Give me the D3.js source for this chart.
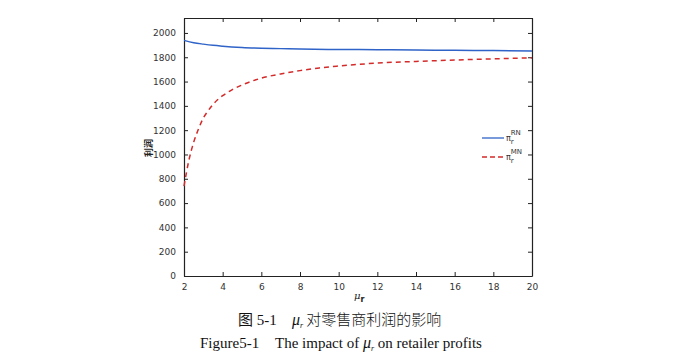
<!DOCTYPE html>
<html>
<head>
<meta charset="utf-8">
<script src="https://cdn.jsdelivr.net/npm/d3@7"></script>
<style>
  body { margin: 0; background: #fff; }
  svg { display: block; }
</style>
</head>
<body>
<svg id="chart" width="699" height="361"></svg>
<script>
// data
var rnMu = [2, 2.5, 3, 3.5, 4, 5, 6, 7, 8, 10, 12, 14, 16, 18, 20];
var rnProfit = [1939, 1920, 1908, 1898, 1891, 1881, 1875, 1871, 1867, 1864, 1862, 1860, 1857, 1855, 1852];
var mnMu = [2, 2.25, 2.5, 2.75, 3, 3.25, 3.5, 3.75, 4, 4.5, 5, 5.5, 6, 7, 8, 9, 10, 12, 14, 16, 18, 20];
var mnProfit = [740, 950, 1100, 1210, 1300, 1360, 1412, 1452, 1484, 1533, 1572, 1603, 1628, 1663, 1690, 1712, 1728, 1752, 1766, 1777, 1787, 1795];
var xTicks = [2, 4, 6, 8, 10, 12, 14, 16, 18, 20];
var yTicks = [0, 200, 400, 600, 800, 1000, 1200, 1400, 1600, 1800, 2000];

var margin = { left: 184, top: 18, right: 167, bottom: 85 };
var svg = d3.select("#chart");
var W = 699 - margin.left - margin.right;
var H = 361 - margin.top - margin.bottom;

var g = svg.append("g").attr("transform", "translate(" + margin.left + "," + margin.top + ")");

var x = d3.scaleLinear().domain([2, 20]).range([0, W]);
var y = d3.scaleLinear().domain([0, 2123]).range([H, 0]);

// axes, ticks pointing inward
function styleAxis(sel) {
  sel.select(".domain").attr("stroke", "#222").attr("stroke-width", 1.2);
  sel.selectAll(".tick line").attr("stroke", "#222");
  sel.selectAll(".tick text").attr("fill", "#333")
    .style("font-family", "DejaVu Sans, sans-serif").style("font-size", "9px");
}

g.append("g").attr("transform", "translate(0," + H + ")")
  .call(d3.axisBottom(x).tickValues(xTicks).tickFormat(d3.format("d"))
    .tickSizeInner(-4).tickSizeOuter(0).tickPadding(8))
  .call(styleAxis);
g.append("g")
  .call(d3.axisLeft(y).tickValues(yTicks).tickFormat(d3.format("d"))
    .tickSizeInner(-4).tickSizeOuter(0).tickPadding(8))
  .call(styleAxis);
g.append("g")
  .call(d3.axisTop(x).tickValues(xTicks).tickSizeInner(-4).tickSizeOuter(0).tickFormat(""))
  .call(styleAxis);
g.append("g").attr("transform", "translate(" + W + ",0)")
  .call(d3.axisRight(y).tickValues(yTicks).tickSizeInner(-4).tickSizeOuter(0).tickFormat(""))
  .call(styleAxis);

var line = d3.line().curve(d3.curveMonotoneX);

g.append("path")
  .attr("d", line(rnMu.map(function (d, i) { return [x(d), y(rnProfit[i])]; })))
  .attr("fill", "none").attr("stroke", "#2f63c8").attr("stroke-width", 1.5);

g.append("path")
  .attr("d", line(mnMu.map(function (d, i) { return [x(d), y(mnProfit[i])]; })))
  .attr("fill", "none").attr("stroke", "#d42a2a").attr("stroke-width", 1.5)
  .attr("stroke-dasharray", "5,4");

// legend
var legend = [
  { sup: "RN", color: "#2f63c8", dash: null },
  { sup: "MN", color: "#d42a2a", dash: "5,3" }
];
var lg = svg.append("g").attr("transform", "translate(482,138)");
legend.forEach(function (d, i) {
  var row = lg.append("g").attr("transform", "translate(0," + i * 19 + ")");
  row.append("line").attr("x1", 0).attr("x2", 22).attr("y1", 0).attr("y2", 0)
    .attr("stroke", d.color).attr("stroke-width", 1.3).attr("stroke-dasharray", d.dash);
  var t = row.append("text").attr("x", 24).attr("y", 3)
    .style("font-family", "DejaVu Sans, sans-serif").style("font-size", "8px").attr("fill", "#333");
  t.append("tspan").text("π");
  t.append("tspan").attr("dy", 3).style("font-size", "7px").text("r");
  t.append("tspan").attr("dx", -3).attr("dy", -9).style("font-size", "7px").text(d.sup);
});

// axis labels
svg.append("text")
  .attr("transform", "translate(152,148) rotate(-90)")
  .attr("text-anchor", "middle")
  .style("font-family", "Noto Sans CJK SC, sans-serif").style("font-size", "9px")
  .style("font-weight", "bold").attr("fill", "#222")
  .text("利润");

var xl = svg.append("text").attr("x", 354).attr("y", 299)
  .style("font-family", "DejaVu Serif, serif").style("font-size", "10px").attr("fill", "#222");
xl.append("tspan").style("font-style", "italic").text("μ");
xl.append("tspan").attr("dy", 3).style("font-family", "DejaVu Sans, sans-serif")
  .style("font-size", "8px").style("font-weight", "bold").text("r");

// captions
var c1 = svg.append("text").attr("x", 238).attr("y", 325)
  .style("font-family", "Liberation Serif, Noto Sans CJK SC, serif").style("font-size", "15px").attr("fill", "#111");
c1.append("tspan").text("图 5-1");
c1.append("tspan").attr("x", 292).style("font-style", "italic").style("font-size", "16px").text("μ");
c1.append("tspan").attr("dy", 3).style("font-style", "italic").style("font-size", "8px").text("r");
c1.append("tspan").attr("dx", 3).attr("dy", -3).style("font-family", "Noto Sans CJK SC, serif")
  .style("font-weight", "300").text("对零售商利润的影响");

var c2 = svg.append("text").attr("x", 200).attr("y", 348)
  .style("font-family", "Liberation Serif, serif").style("font-size", "15px").attr("fill", "#111");
c2.append("tspan").text("Figure5-1");
c2.append("tspan").attr("x", 275).text("The impact of ");
c2.append("tspan").style("font-style", "italic").style("font-size", "16px").text("μ");
c2.append("tspan").attr("dy", 3).style("font-style", "italic").style("font-size", "8px").text("r");
c2.append("tspan").attr("dy", -3).text(" on retailer profits");
</script>
</body>
</html>
